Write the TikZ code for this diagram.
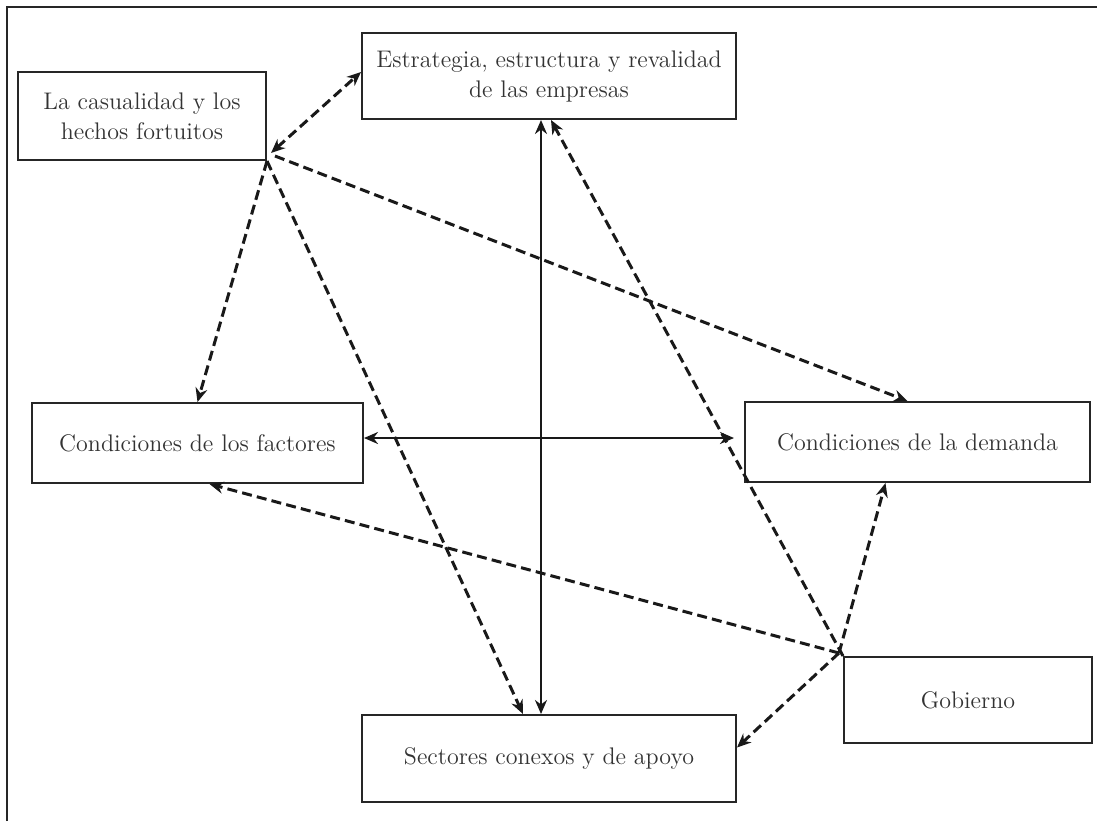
\documentclass[tikz,border=0pt]{standalone}
\usepackage{tikz}
\usetikzlibrary{arrows.meta}

\tikzset{
  caja/.style={draw=black!85, line width=1pt, align=center, inner sep=0pt,
    font=\fontsize{12}{15}\selectfont, text=black!80},
  flecha/.style={black!90, line width=1.5pt, dash pattern=on 5pt off 2.6pt,
    -{Stealth[length=7pt, width=6pt]}},
  eje/.style={black!90, line width=1.4pt,
    {Stealth[length=7pt, width=6pt]}-{Stealth[length=7pt, width=6pt]}},
}

\begin{document}
\begin{tikzpicture}[x=0.5pt, y=-0.5pt]
    \useasboundingbox (0,0) rectangle (1097,821);
    \draw[black!85, line width=1pt] (7,821) -- (7,7) -- (1097,7);

    \node[caja, minimum width=124pt, minimum height=44pt] (casual) at (142,116) {La casualidad y los\\hechos fortuitos};
    \node[caja, minimum width=187pt, minimum height=43pt] (estrat) at (549,76) {Estrategia, estructura y revalidad\\de las empresas};
    \node[caja, minimum width=165.5pt, minimum height=40pt] (factor) at (197.5,443) {Condiciones de los factores};
    \node[caja, minimum width=172.5pt, minimum height=40pt] (demand) at (917.5,442) {Condiciones de la demanda};
    \node[caja, minimum width=187pt, minimum height=43.5pt] (sector) at (549,758.5) {Sectores conexos y de apoyo};
    \node[caja, minimum width=124pt, minimum height=43pt] (gobier) at (968,700) {Gobierno};

    % ejes del diamante
    \draw[eje] ([xshift=-4pt]estrat.south) -- ([xshift=-4pt]sector.north);
    \draw[eje] ([yshift=2.5pt]factor.east) -- ([xshift=-5pt, yshift=2pt]demand.west);

    % la casualidad
    \draw[flecha, {Stealth[length=7pt, width=6pt]}-{Stealth[length=7pt, width=6pt]}] ([xshift=2pt, yshift=4pt]casual.south east) -- ([yshift=2pt]estrat.west);
    \draw[flecha] (casual.south east) -- (factor.north);
    \draw[flecha] (casual.south east) -- ([xshift=-13pt]sector.north);
    \draw[flecha] ([xshift=4pt, yshift=2.5pt]casual.south east) -- ([xshift=-5pt]demand.north);

    % el gobierno
    \draw[flecha] (gobier.north west) -- ([xshift=1pt]estrat.south);
    \foreach \n/\dx/\dy in {demand.south/-16/0, factor.south/6/0, sector.east/0/5.5}{%
        \draw[flecha] ([xshift=-2pt, yshift=1.5pt]gobier.north west) -- ([xshift=\dx pt, yshift=\dy pt]\n);
    }
\end{tikzpicture}
\end{document}
